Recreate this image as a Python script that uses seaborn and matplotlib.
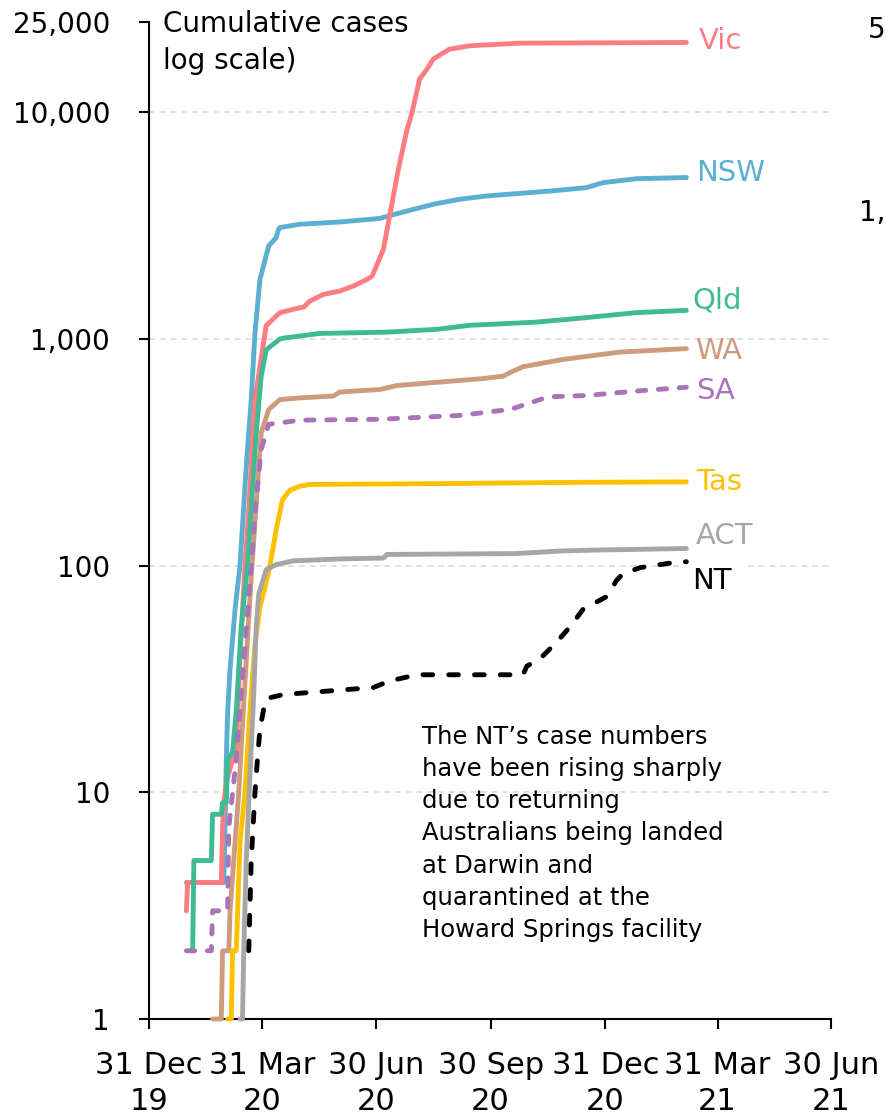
import pandas as pd
import seaborn as sns
import matplotlib.pyplot as plt
from matplotlib.ticker import NullLocator, FixedLocator

# cumulative cases: days after 31 Dec 2019, cases
vic_day = [30, 31, 58, 59, 60, 62, 67, 70, 73, 77, 80, 85, 89, 94, 105, 121, 124, 129, 140, 153,
           164, 175, 179, 188, 193, 200, 207, 211, 217, 223, 228, 234, 241, 257, 298, 431]
vic_cases = [3, 4, 4, 7, 9, 11, 14, 15, 40, 100, 178, 540, 759, 1145, 1306, 1373, 1380, 1469, 1573, 1626,
             1711, 1832, 1893, 2485, 3485, 5600, 8410, 9970, 13990, 15500, 17140, 18000, 18970, 19630, 20170, 20300]

nsw_day = [30, 60, 61, 62, 63, 65, 69, 73, 78, 82, 85, 89, 96, 102, 104, 105, 121, 153, 185, 207,
           228, 249, 271, 324, 351, 364, 391, 431]
nsw_cases = [4, 4, 7, 14, 22, 35, 64, 100, 274, 540, 1065, 1832, 2570, 2800, 3050, 3098, 3205, 3280, 3400, 3666,
             3926, 4130, 4273, 4500, 4650, 4888, 5090, 5150]

qld_day = [33, 35, 36, 50, 51, 58, 59, 62, 63, 67, 70, 74, 79, 86, 90, 94, 105, 110, 137, 190,
           231, 257, 311, 351, 391, 431]
qld_cases = [2, 2, 5, 5, 8, 8, 9, 9, 14, 15, 23, 54, 100, 385, 685, 895, 1000, 1012, 1057, 1071,
             1102, 1148, 1186, 1242, 1306, 1336]

wa_day = [51, 58, 59, 64, 65, 69, 72, 74, 78, 82, 88, 90, 96, 105, 121, 148, 153, 185, 199, 266,
          284, 292, 300, 332, 378, 431]
wa_cases = [1, 1, 2, 2, 3, 6, 10, 16, 38, 89, 274, 385, 488, 540, 549, 560, 583, 598, 623, 667,
            685, 721, 754, 812, 875, 906]

sa_day = [30, 50, 51, 63, 64, 70, 76, 82, 86, 90, 96, 121, 185, 250, 290, 318, 324, 351, 391, 431]
sa_cases = [2, 2, 3, 3, 7, 14, 38, 100, 196, 325, 420, 438, 442, 460, 489, 550, 556, 563, 589, 612]

tas_day = [63, 66, 67, 70, 73, 77, 81, 85, 89, 93, 97, 102, 107, 113, 121, 129, 233, 346, 431]
tas_cases = [1, 1, 2, 2, 6, 10, 23, 45, 66, 80, 100, 144, 195, 215, 224, 228, 230, 233, 234]

act_day = [73, 75, 76, 78, 81, 84, 86, 88, 94, 102, 116, 153, 188, 191, 295, 330, 356, 431]
act_cases = [1, 1, 2, 5, 12, 27, 54, 75, 96, 101, 105, 107, 108, 112, 113, 116, 117, 119]

nt_day = [80, 82, 85, 87, 89, 93, 95, 108, 180, 193, 215, 300, 303, 314, 327, 338, 348, 367, 375, 380,
          394, 420, 431]
nt_cases = [2, 5, 10, 14, 19, 25, 26, 27, 29, 31, 33, 33, 36, 39, 46, 54, 64, 73, 86, 92,
            98, 103, 104]

states = ["Vic", "NSW", "Qld", "WA", "SA", "Tas", "ACT", "NT"]
draw_order = ["NSW", "Vic", "Qld", "WA", "SA", "Tas", "ACT", "NT"]
y_ticks = [1, 10, 100, 1000, 10000, 25000]
y_labels = ["1", "10", "100", "1,000", "10,000", "25,000"]
x_ticks = ["2019-12-31", "2020-03-31", "2020-06-30", "2020-09-30", "2020-12-31", "2021-03-31", "2021-06-30"]
x_labels = ["31 Dec\n19", "31 Mar\n20", "30 Jun\n20", "30 Sep\n20", "31 Dec\n20", "31 Mar\n21", "30 Jun\n21"]

colors = {"Vic": "#FF7C80", "NSW": "#5BAFD0", "Qld": "#3DBB94", "WA": "#CF9B7F",
          "SA": "#A874B8", "Tas": "#FFC000", "ACT": "#A6A6A6", "NT": "#000000"}
dashes = {"Vic": "", "NSW": "", "Qld": "", "WA": "", "SA": (1.7, 2.6), "Tas": "", "ACT": "", "NT": (2, 3.3)}
# label offsets (points) from the end of each line
label_off = {"Vic": (9, 1), "NSW": (7, 3), "Qld": (4, 7), "WA": (6, -2), "SA": (7, -3),
             "Tas": (7, 0), "ACT": (7, 9), "NT": (4, -14)}

start = pd.Timestamp("2019-12-31")
series = {"Vic": (vic_day, vic_cases), "NSW": (nsw_day, nsw_cases), "Qld": (qld_day, qld_cases),
          "WA": (wa_day, wa_cases), "SA": (sa_day, sa_cases), "Tas": (tas_day, tas_cases),
          "ACT": (act_day, act_cases), "NT": (nt_day, nt_cases)}
frames = []
for s in draw_order:
    d, c = series[s]
    frames.append(pd.DataFrame({"date": start + pd.to_timedelta(d, unit="D"), "cases": c, "state": s}))
df = pd.concat(frames, ignore_index=True)

sns.set_style("ticks")
plt.rcParams["font.family"] = ["DejaVu Sans"]
plt.rcParams["text.color"] = "black"

fig = plt.figure(figsize=(8.86, 11.15), dpi=100)
ax = fig.add_axes([149 / 886, 1 - 1019 / 1115, 682 / 886, 997 / 1115])

sns.lineplot(data=df, x="date", y="cases", hue="state", style="state", hue_order=draw_order,
             style_order=draw_order, palette=colors, dashes=dashes, estimator=None,
             linewidth=3.5, legend=False, ax=ax)
for ln in ax.lines:
    ln.set_solid_capstyle("round")
    ln.set_dash_capstyle("round")
    ln.set_zorder(3)
    ln.set_clip_on(False)

ax.set_yscale("log")
ax.set_ylim(1, 25000)
ax.yaxis.set_major_locator(FixedLocator(y_ticks))
ax.yaxis.set_minor_locator(NullLocator())
ax.set_yticklabels(y_labels)
ax.set_xlim(pd.Timestamp(x_ticks[0]), pd.Timestamp(x_ticks[-1]))
ax.set_xticks([pd.Timestamp(t) for t in x_ticks])
ax.set_xticklabels(x_labels)
ax.set_xlabel("")
ax.set_ylabel("")

ax.tick_params(axis="both", direction="out", length=7, width=1.5, colors="black", labelsize=20)
ax.tick_params(axis="y", pad=21)
ax.tick_params(axis="x", pad=16, labelsize=22)
for lbl in ax.get_xticklabels():
    lbl.set_linespacing(1.3)
sns.despine(ax=ax)
for sp in ["left", "bottom"]:
    ax.spines[sp].set_linewidth(1.5)
    ax.spines[sp].set_color("black")

ax.hlines(y_ticks[1:-1], pd.Timestamp(x_ticks[0]), pd.Timestamp(x_ticks[-1]),
          colors="#D9D9D9", linestyles=(0, (4, 3)), linewidth=1.1, zorder=1)

for s in states:
    d, c = series[s]
    kw = {}
    if s == "NT":
        kw["bbox"] = dict(facecolor="white", edgecolor="none", pad=8)
    ax.annotate(s, xy=(start + pd.Timedelta(days=d[-1]), c[-1]), xytext=label_off[s],
                textcoords="offset points", ha="left", va="center", fontsize=21,
                color=colors[s], zorder=2.5, **kw)

fig.text(163 / 886, 1 - 10 / 1115, "Cumulative cases\nlog scale)", fontsize=20,
         ha="left", va="top", linespacing=1.4)

ax.text(0.40, 0.295, "The NT\u2019s case numbers\nhave been rising sharply\ndue to returning\n"
        "Australians being landed\nat Darwin and\nquarantined at the\nHoward Springs facility",
        transform=ax.transAxes, fontsize=17.5, ha="left", va="top", linespacing=1.43)

# edge of the neighbouring panel
fig.text(886 / 886, 1 - 30 / 1115, "5", fontsize=20, ha="right", va="center")
fig.text(886 / 886, 1 - 213 / 1115, "1,", fontsize=20, ha="right", va="center")

fig.savefig("out.png", dpi=100)
